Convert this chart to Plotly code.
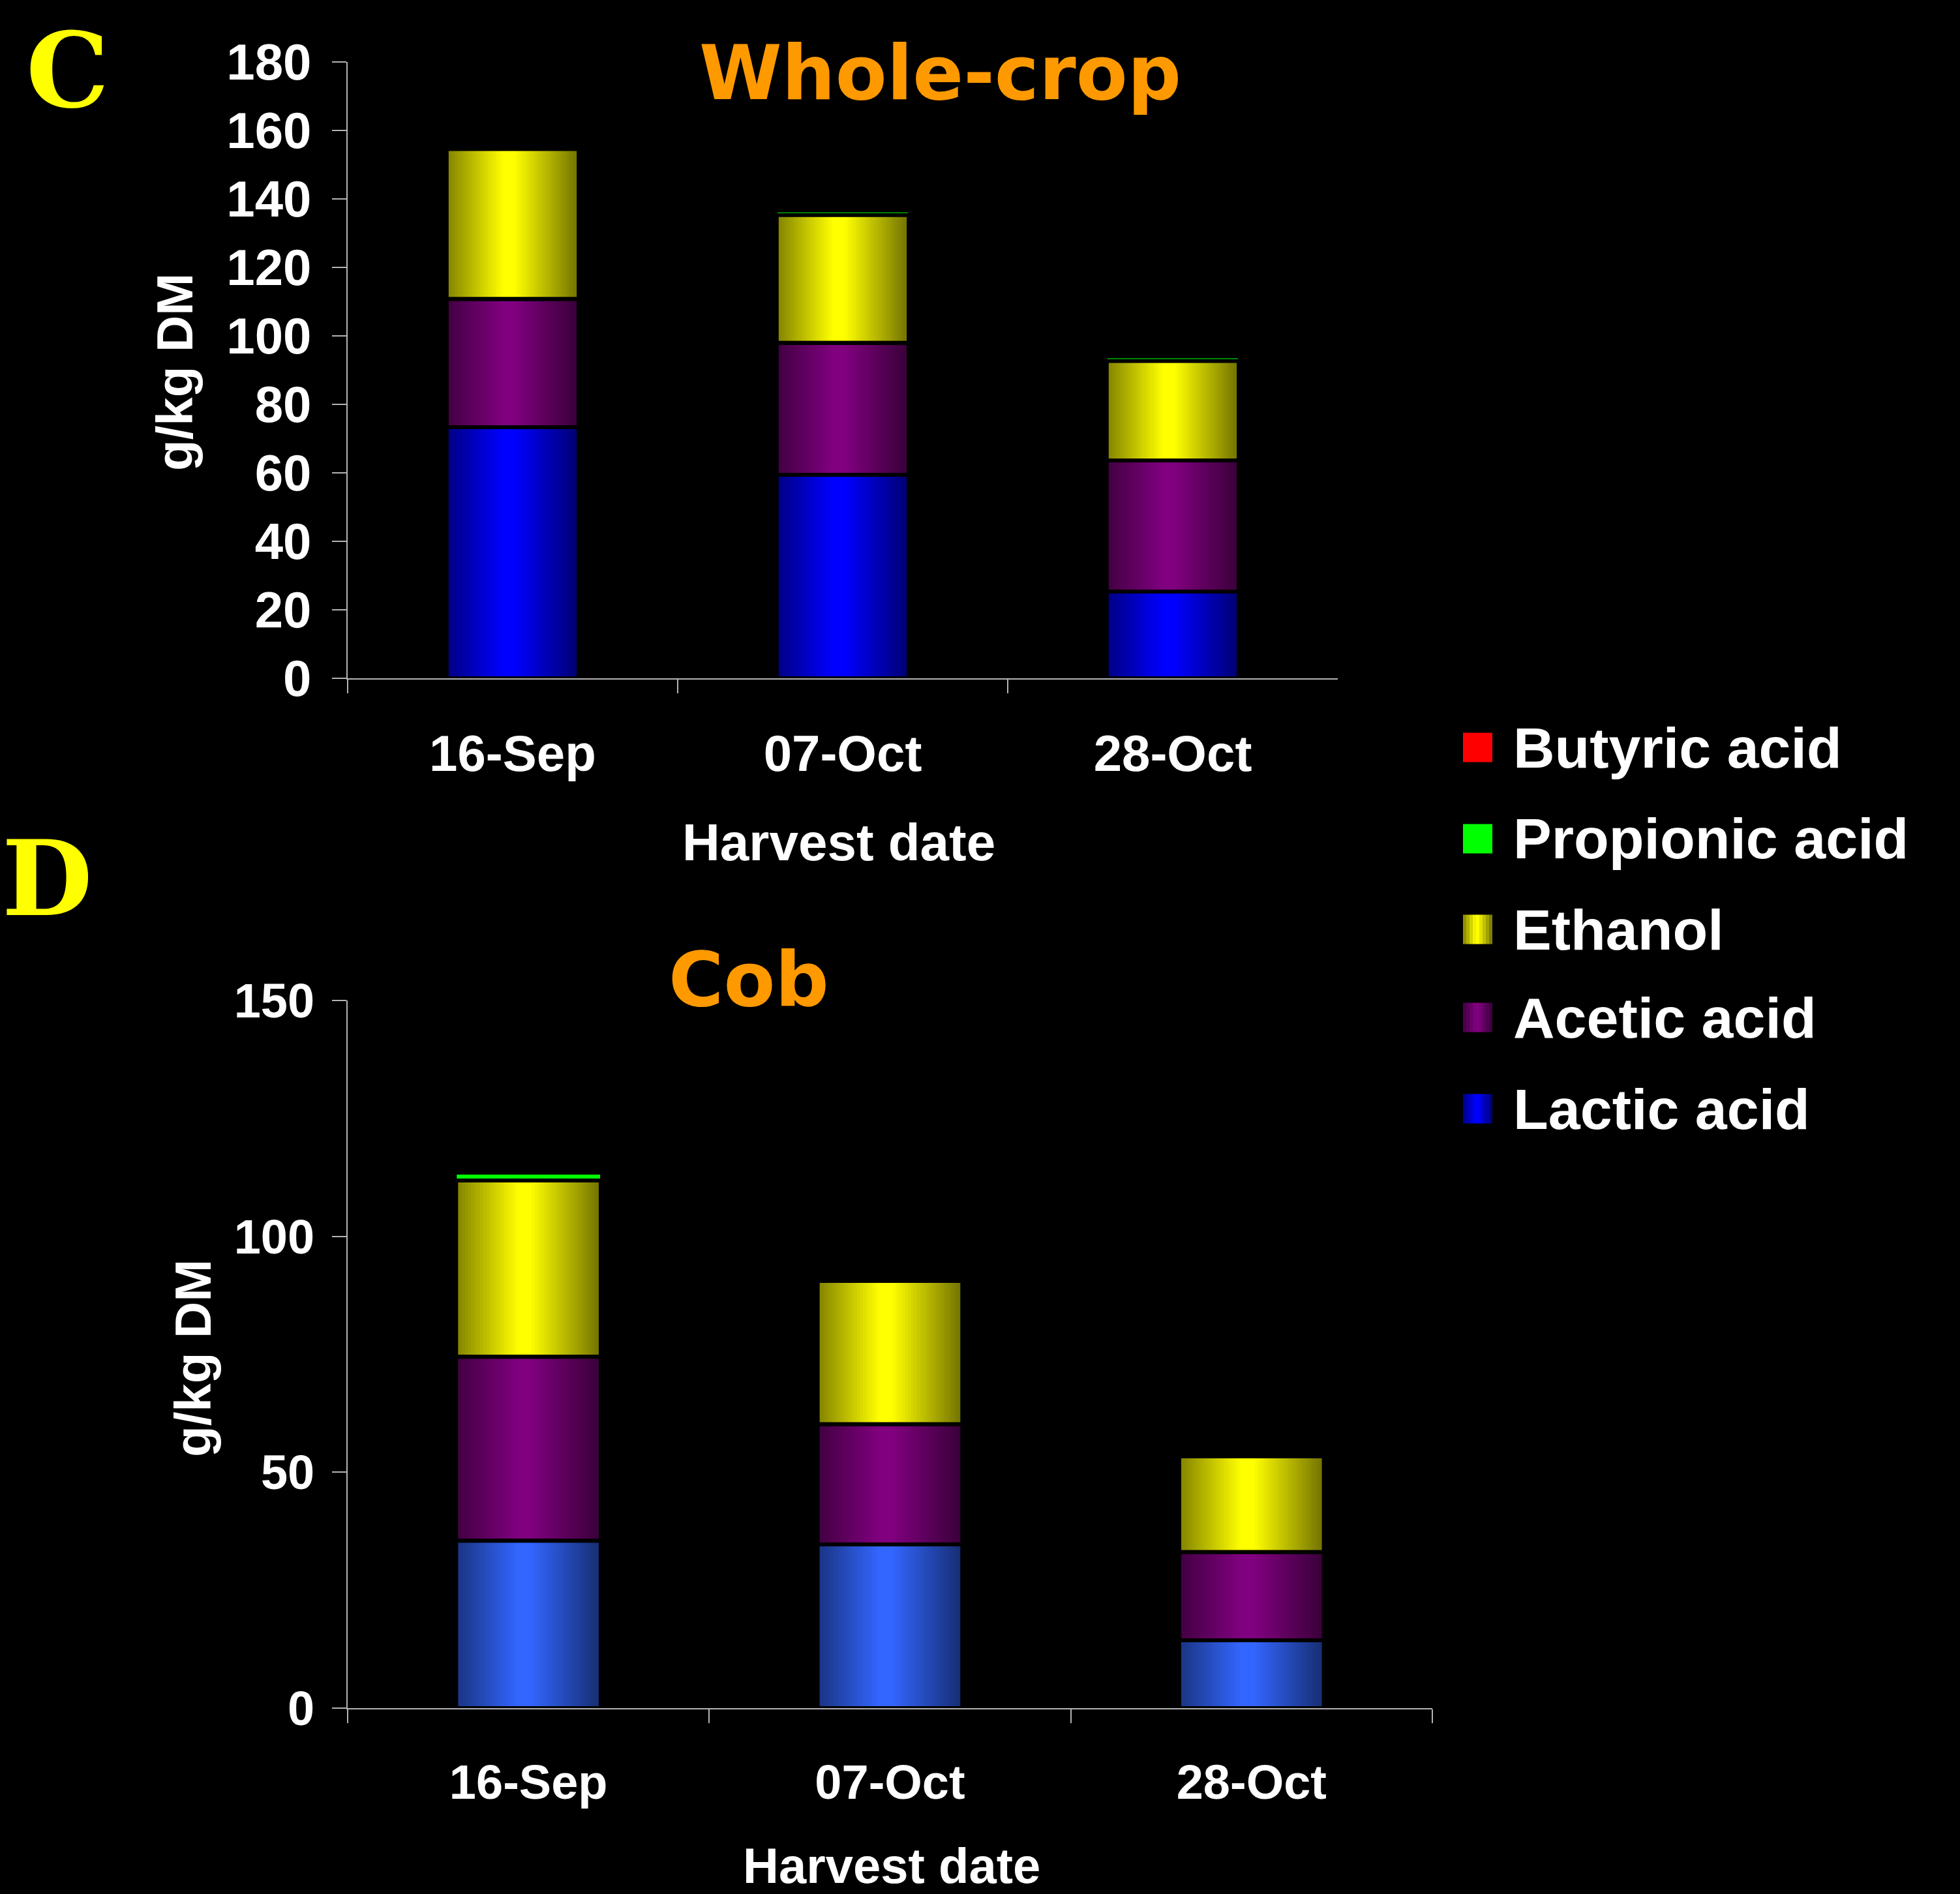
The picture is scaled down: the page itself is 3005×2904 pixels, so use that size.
import numpy as np
import plotly.graph_objects as go

# ---------------- data (g/kg DM) ----------------
dates = ["16-Sep", "07-Oct", "28-Oct"]
series_order = ["Lactic acid", "Acetic acid", "Ethanol", "Propionic acid", "Butyric acid"]

wholecrop_lactic = [73.3, 59.4, 25.3]
wholecrop_acetic = [37.4, 38.5, 38.3]
wholecrop_ethanol = [43.8, 37.3, 29.0]
wholecrop_propionic = [0.0, 1.0, 1.0]
wholecrop_butyric = [0.0, 0.0, 0.0]

cob_lactic = [35.5, 34.7, 14.4]
cob_acetic = [39.0, 25.5, 18.7]
cob_ethanol = [37.4, 30.4, 20.3]
cob_propionic = [1.4, 0.0, 0.0]
cob_butyric = [0.0, 0.0, 0.0]

wholecrop_yticks = [0, 20, 40, 60, 80, 100, 120, 140, 160, 180]
cob_yticks = [0, 50, 100, 150]

legend_labels = ["Butyric acid", "Propionic acid", "Ethanol", "Acetic acid", "Lactic acid"]

# ---------------- styling ----------------
W, H = 3005, 2904
SANS = "Liberation Sans, Arial, sans-serif"
HEAVY = "DejaVu Sans, Arial Black, sans-serif"
SERIF = "DejaVu Serif, serif"
AXIS_GREY = "#B4B4B4"

centre_colours = {
    "Lactic acid": (0, 0, 255),
    "Acetic acid": (128, 0, 128),
    "Ethanol": (255, 255, 0),
    "Propionic acid": (0, 255, 0),
    "Butyric acid": (255, 0, 0),
}
cob_lactic_colour = (51, 102, 255)
shaded = {"Lactic acid", "Acetic acid", "Ethanol"}
outline_width = {"Lactic acid": 6, "Acetic acid": 6, "Ethanol": 6,
                 "Propionic acid": 2, "Butyric acid": 2}

BAR_W = 0.40      # bar width in category units
STRIPS = 48       # vertical strips used for the cylinder-like shading


def shade(t):
    """Brightness factor across a bar (0 = left edge, 1 = right edge)."""
    d = max(0.0, abs(t - 0.47) - 0.04) / 0.49
    return 1.0 - 0.56 * min(1.0, d)


def rgb(c, f=1.0):
    return "rgb({},{},{})".format(*[int(round(v * f)) for v in c])


def px_x(p):
    return p / W


def px_y(p):
    return 1 - p / H


fig = go.Figure()


def add_stack(values, xa, ya, lactic_colour):
    bottoms = np.zeros(len(dates))
    bases = {}
    for name in series_order:
        bases[name] = bottoms.copy()
        bottoms = bottoms + np.asarray(values[name], dtype=float)

    # coloured fills
    for name in series_order:
        vals = values[name]
        col = lactic_colour if name == "Lactic acid" else centre_colours[name]
        if name in shaded:
            step = BAR_W / STRIPS
            for i in range(STRIPS):
                t = (i + 0.5) / STRIPS
                width = step if i == STRIPS - 1 else step * 1.7
                fig.add_trace(go.Bar(
                    x=dates, y=vals, base=bases[name],
                    offset=-BAR_W / 2 + i * step, width=width,
                    marker=dict(color=rgb(col, shade(t)), line=dict(width=0)),
                    xaxis=xa, yaxis=ya, showlegend=False, hoverinfo="skip",
                ))
        else:
            fig.add_trace(go.Bar(
                x=dates, y=vals, base=bases[name],
                offset=-BAR_W / 2, width=BAR_W,
                marker=dict(color=rgb(col), line=dict(width=0)),
                xaxis=xa, yaxis=ya, showlegend=False, hoverinfo="skip",
            ))

    # black segment outlines drawn on top, giving the gaps between segments
    for name in series_order:
        fig.add_trace(go.Bar(
            x=dates, y=values[name], base=bases[name],
            offset=-BAR_W / 2, width=BAR_W,
            marker=dict(color="rgba(0,0,0,0)",
                        line=dict(color="black", width=outline_width[name])),
            xaxis=xa, yaxis=ya, showlegend=False, hoverinfo="skip",
        ))


add_stack({
    "Lactic acid": wholecrop_lactic,
    "Acetic acid": wholecrop_acetic,
    "Ethanol": wholecrop_ethanol,
    "Propionic acid": wholecrop_propionic,
    "Butyric acid": wholecrop_butyric,
}, "x", "y", centre_colours["Lactic acid"])

add_stack({
    "Lactic acid": cob_lactic,
    "Acetic acid": cob_acetic,
    "Ethanol": cob_ethanol,
    "Propionic acid": cob_propionic,
    "Butyric acid": cob_butyric,
}, "x2", "y2", cob_lactic_colour)


def x_axis(domain, anchor, size, standoff):
    return dict(
        domain=domain, anchor=anchor, type="category", range=[-0.5, 2.5],
        automargin=False,
        tickson="boundaries", ticks="outside", ticklen=21, tickwidth=2,
        tickcolor=AXIS_GREY, showline=True, linecolor=AXIS_GREY, linewidth=2,
        showgrid=False, zeroline=False, ticklabelstandoff=standoff,
        tickfont=dict(family=SANS, size=size, color="white", weight="bold"),
    )


def y_axis(domain, anchor, rng, ticks, size, standoff):
    return dict(
        domain=domain, anchor=anchor, range=rng, tickmode="array", tickvals=ticks,
        automargin=False,
        ticks="outside", ticklen=22, tickwidth=2, tickcolor=AXIS_GREY,
        showline=True, linecolor=AXIS_GREY, linewidth=2,
        showgrid=False, zeroline=False, ticklabelstandoff=standoff,
        tickfont=dict(family=SANS, size=size, color="white", weight="bold"),
    )


fig.update_layout(
    width=W, height=H, autosize=False,
    margin=dict(l=0, r=0, t=0, b=0, autoexpand=False),
    paper_bgcolor="black", plot_bgcolor="black",
    barmode="overlay", showlegend=False,
    xaxis=x_axis([px_x(533), px_x(2051)], "y", 78, 46),
    yaxis=y_axis([px_y(1040), px_y(94.5)], "x", [0, 180], wholecrop_yticks, 78, 16),
    xaxis2=x_axis([px_x(533), px_x(2196)], "y2", 74, 48),
    yaxis2=y_axis([px_y(2619), px_y(1534.4)], "x2", [0, 150], cob_yticks, 74, 12),
)

# panel letters, titles and axis titles
annotations = [
    dict(text="C", x=px_x(103), y=px_y(108), font=dict(family=SERIF, size=160, color="#FFFF00", weight="bold")),
    dict(text="D", x=px_x(72), y=px_y(1347), font=dict(family=SERIF, size=160, color="#FFFF00", weight="bold")),
    dict(text="Whole-crop", x=px_x(1441), y=px_y(112), font=dict(family=HEAVY, size=115, color="#FF9900", weight="bold")),
    dict(text="Cob", x=px_x(1148), y=px_y(1502), font=dict(family=HEAVY, size=115, color="#FF9900", weight="bold")),
    dict(text="Harvest date", x=px_x(1286), y=px_y(1291), font=dict(family=SANS, size=80, color="white", weight="bold")),
    dict(text="Harvest date", x=px_x(1367), y=px_y(2860), font=dict(family=SANS, size=76, color="white", weight="bold")),
    dict(text="g/kg DM", x=px_x(268), y=px_y(571), textangle=-90, font=dict(family=SANS, size=78, color="white", weight="bold")),
    dict(text="g/kg DM", x=px_x(296), y=px_y(2083), textangle=-90, font=dict(family=SANS, size=78, color="white", weight="bold")),
]
for a in annotations:
    a.update(xref="paper", yref="paper", xanchor="center", yanchor="middle", showarrow=False)
    fig.add_annotation(**a)

# legend: swatches and labels
legend_centres = [1146, 1286, 1425, 1560, 1700]
sw = 45
shapes = []
for label, cy in zip(legend_labels, legend_centres):
    col = centre_colours[label]
    x0, x1 = 2243, 2243 + sw
    if label in shaded:
        n = 9
        for i in range(n):
            t = (i + 0.5) / n
            shapes.append(dict(type="rect", xref="paper", yref="paper",
                               x0=px_x(x0 + i * sw / n), x1=px_x(x0 + (i + 1) * sw / n + (0 if i == n - 1 else 0.8)),
                               y0=px_y(cy + sw / 2), y1=px_y(cy - sw / 2),
                               fillcolor=rgb(col, shade(t)), line=dict(width=0)))
    else:
        shapes.append(dict(type="rect", xref="paper", yref="paper",
                           x0=px_x(x0), x1=px_x(x1), y0=px_y(cy + sw / 2), y1=px_y(cy - sw / 2),
                           fillcolor=rgb(col), line=dict(width=0)))
    fig.add_annotation(text=label, xref="paper", yref="paper", x=px_x(2318), y=px_y(cy),
                       xanchor="left", yanchor="middle", showarrow=False,
                       font=dict(family=SANS, size=88, color="white", weight="bold"))
fig.update_layout(shapes=shapes)

fig.write_html("out.html")
